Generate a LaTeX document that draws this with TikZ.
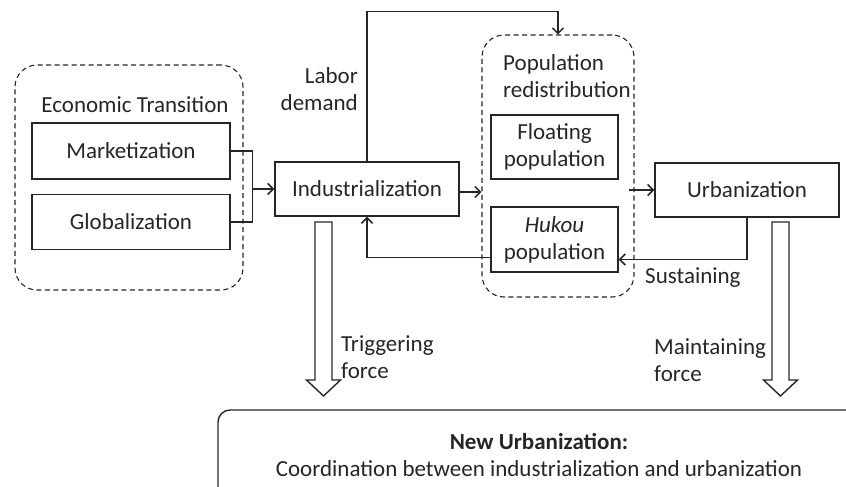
\documentclass[tikz,border=0pt]{standalone}
\usepackage{fontspec}
\setmainfont{Carlito}
\usepackage{tikz}
\usetikzlibrary{arrows.meta, positioning, calc}

\begin{document}
\begin{tikzpicture}[x=1pt, y=-1pt,
    font=\fontsize{23}{27}\selectfont,
    color=black!85,
    box/.style={draw, line width=1.4pt, align=center, inner sep=0pt},
    group/.style={draw, dash pattern=on 5pt off 3.5pt, line width=1.1pt, rounded corners=22pt, inner sep=0pt},
    lbl/.style={align=left, inner sep=0pt},
    conn/.style={draw, line width=1.4pt, -{Straight Barb[length=5.5pt, width=11pt, line width=1.5pt]}}
]
\clip (0,0) rectangle (846,487);
\def \shaft{8.5}
% Groups
\node[group, minimum width=228, minimum height=225] (econ) at (129,177.5) {};
\node[group, minimum width=152, minimum height=262] (pop) at (558,166) {};
% Nodes
\node[lbl] (econlbl) at (135,105) {Economic Transition};
\node[box, minimum width=198, minimum height=56] (mkt) at (131,151) {Marketization};
\node[box, minimum width=198, minimum height=55] (glb) at (131,222) {Globalization};
\node[box, minimum width=184, minimum height=54] (ind) at (367,189) {Industrialization};
\node[lbl, anchor=west] (poplbl) at (503,76) {Population\\redistribution};
\node[box, minimum width=127, minimum height=64] (flt) at (554.5,147) {Floating\\population};
\node[box, minimum width=127, minimum height=65] (hk) at (554.5,239.5) {\textit{Hukou}\\population};
\node[box, minimum width=184, minimum height=54] (urb) at (747,190) {Urbanization};
\draw[line width=1.4pt, rounded corners=12pt] (218,505) -- (218,410) -- (880,410);
\node[align=center, inner sep=0pt] (new) at (539,455) {\textbf{New Urbanization:}\\Coordination between industrialization and urbanization};
% Edge labels
\node[lbl, align=right, anchor=east] (labor) at (358,89) {Labor\\demand};
\node[lbl, anchor=west] (sust) at (645,278) {Sustaining};
\node[lbl, anchor=west] (trig) at (341,357) {Triggering\\force};
\node[lbl, anchor=west] (maint) at (654,360) {Maintaining\\force};
% Edges
\draw[line width=1.4pt] (mkt.east) -- ++(22,0) coordinate (br) |- (glb.east);
\coordinate (join) at (br |- ind.west);
\draw[conn] (join) -- (ind.west);
\draw[conn] (ind.north) -- ++(0,-150) -| (pop.north);
\draw[conn] ([yshift=-3pt]ind.east) -- ([yshift=-3pt]ind.east -| pop.west);
\draw[conn] ([yshift=-18pt]hk.west) -| (ind.south);
\draw[conn] ([xshift=-6pt]urb.west -| pop.east) -- (urb.west);
\draw[conn] (urb.south) |- ([yshift=-20pt]hk.east);
% Force arrows
\foreach \xc in {323.5, 780.5}
  \draw[line width=1.4pt, line join=miter]
    (\xc-\shaft,222) -- (\xc-\shaft,380) -- (\xc-17,380) -- (\xc,396)
    -- (\xc+17,380) -- (\xc+\shaft,380) -- (\xc+\shaft,222) -- cycle;
\end{tikzpicture}
\end{document}
